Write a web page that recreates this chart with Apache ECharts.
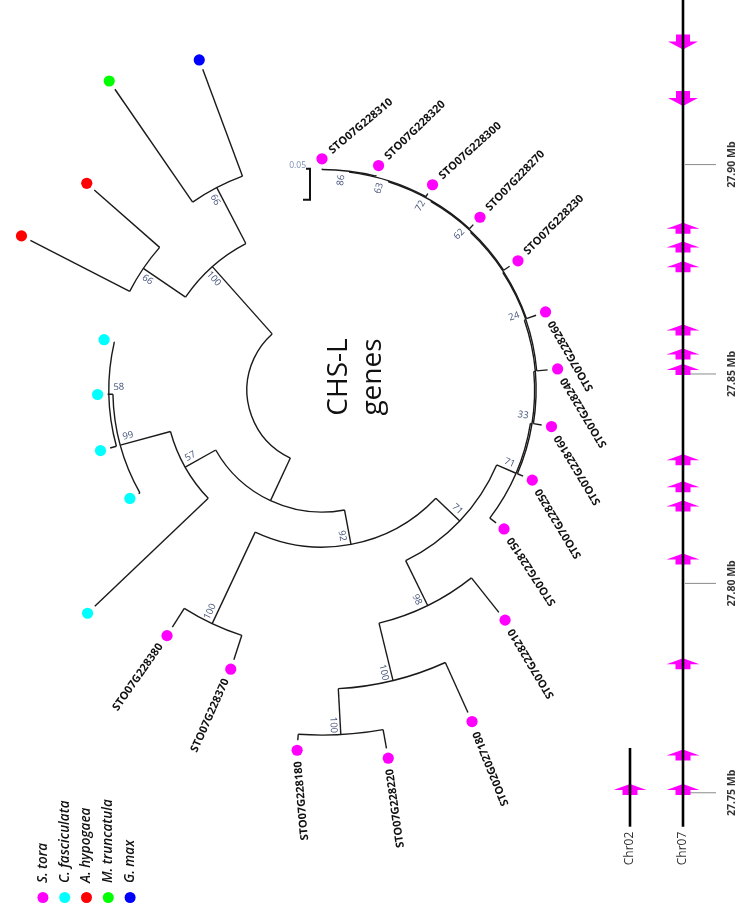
<!DOCTYPE html>
<html><head><meta charset="utf-8">
<script src="https://cdn.jsdelivr.net/npm/echarts@6.0.0/dist/echarts.min.js"></script>
<style>html,body{margin:0;padding:0;background:#fff}#c{width:739px;height:919px}</style>
</head><body><div id="c"></div>
<script>
// ================= DATA =================
// Phylogeny (Newick, branch lengths in substitutions/site, internal labels = bootstrap)
const treeNewick =
 "((((((((((((((STO07G228310:0.0011,STO07G228320:0.0015)86:0.0016,STO07G228300:0.0058)63:0.0016," +
 "STO07G228270:0.0090)72:0.0016,STO07G228230:0.0116)62:0.0016,STO07G228260:0.0165):0.0016," +
 "STO07G228240:0.0177)24:0.0024,STO07G228160:0.0134):0.0024,STO07G228250:0.0100)33:0.0024," +
 "STO07G228150:0.0127)71:0.0339,(STO07G228210:0.0710,(STO02G027180:0.0884,(STO07G228220:0.0306," +
 "STO07G228180:0.0097)100:0.0742)100:0.0952)98:0.0806)71:0.0532,(STO07G228370:0.0413," +
 "STO07G228380:0.0360)100:0.1629)92:0.0565,(Cfa1:0.2526,(Cfa2:0.0024,(Cfa3:0.0105,Cfa4:0.0021," +
 "Cfa5:0.0008)58:0.0065)99:0.0839)57:0.0565):0.0758,((Ahy1:0.1800,Ahy2:0.1403)66:0.0823," +
 "(Mtr1:0.2210,Gma1:0.1839)66:0.1016)100:0.1452);";

const species       = ['S. tora', 'C. fasciculata', 'A. hypogaea', 'M. truncatula', 'G. max'];
const speciesPrefix = ['STO', 'Cfa', 'Ahy', 'Mtr', 'Gma'];
const speciesColors = ['#ff00ff', '#00ffff', '#ff0000', '#00ff00', '#0000ff'];
const scaleBarValue = 0.05;

// Physical map (positions in Mb)
const chromosomes   = ['Chr02', 'Chr07'];
const chrStart      = [27.7419, 27.7419];
const chrEnd        = [27.7607, 27.9500];
const geneChr       = [1,1,1,1,1,1,1,1,1,1,1,1,1,1,1,0];
const genePos       = [27.9293,27.9158,27.8848,27.8803,27.8756,27.8605,27.8548,27.8511,
                       27.8295,27.8231,27.8185,27.8058,27.7808,27.7590,27.7508,27.7508];
const geneStrand    = ['-','-','+','+','+','+','+','+','+','+','+','+','+','+','+','+'];
const tickValues    = [27.75, 27.80, 27.85, 27.90];
const tickLabels    = ['27.75 Mb', '27.80 Mb', '27.85 Mb', '27.90 Mb'];

// ================= STYLE =================
const leafLabelRotation = {
  STO07G228310:40, STO07G228320:44, STO07G228300:42, STO07G228270:46, STO07G228230:45,
  STO07G228260:120, STO07G228240:121, STO07G228160:121, STO07G228250:121, STO07G228150:123,
  STO07G228210:121, STO02G027180:112, STO07G228220:98, STO07G228180:95,
  STO07G228370:66, STO07G228380:55
};
const LINE = '#1a1a1a';
const DOT_GAP = 10;

// ================= TREE LAYOUT =================
function parseNewick(str) {
  let i = 0;
  function node() {
    const n = { children: [], name: '', len: 0 };
    if (str[i] === '(') {
      i++; n.children.push(node());
      while (str[i] === ',') { i++; n.children.push(node()); }
      i++;
    }
    let name = '';
    while (i < str.length && !',():;'.includes(str[i])) name += str[i++];
    n.name = name;
    if (str[i] === ':') {
      i++; let num = '';
      while (i < str.length && !',();'.includes(str[i])) num += str[i++];
      n.len = parseFloat(num);
    }
    return n;
  }
  return node();
}
const root = parseNewick(treeNewick);
const allNodes = [], leaves = [];
(function layout(n, depth, parentDepth) {
  n.depth = depth; n.parentDepth = parentDepth;
  if (!n.children.length) { n.angle = leaves.length; leaves.push(n); }
  else {
    n.children.forEach(c => layout(c, depth + c.len, depth));
    n.angle = (n.children[0].angle + n.children[n.children.length - 1].angle) / 2;
  }
  allNodes.push(n);
})(root, 0, -1);
const supportNodes = allNodes.filter(n => n.children.length && n.name);
function speciesOf(name) { return speciesPrefix.findIndex(p => name.indexOf(p) === 0); }

// ================= RENDERERS =================
function renderBranch(params, api) {
  const cx = params.coordSys.cx, cy = params.coordSys.cy;
  const n = allNodes[params.dataIndex];
  const st = { stroke: LINE, lineWidth: 1.4, fill: 'none' };
  const out = [];
  if (n.parentDepth >= 0) {
    const a = api.coord([n.parentDepth, n.angle]), b = api.coord([n.depth, n.angle]);
    out.push({ type: 'line', shape: { x1: a[0], y1: a[1], x2: b[0], y2: b[1] }, style: st });
  }
  if (n.children.length) {
    const q0 = api.coord([n.depth, n.children[0].angle]);
    const q1 = api.coord([n.depth, n.children[n.children.length - 1].angle]);
    const r = Math.hypot(q0[0] - cx, q0[1] - cy);
    let s = Math.atan2(q0[1] - cy, q0[0] - cx), e = Math.atan2(q1[1] - cy, q1[0] - cx);
    let d = e - s;
    while (d > Math.PI) d -= 2 * Math.PI;
    while (d <= -Math.PI) d += 2 * Math.PI;
    if (d < 0) { s = e; d = -d; }
    out.push({ type: 'arc', shape: { cx, cy, r, startAngle: s, endAngle: s + d, clockwise: true }, style: st });
  }
  return { type: 'group', children: out };
}

function renderLeaf(params, api) {
  const cx = params.coordSys.cx, cy = params.coordSys.cy;
  const n = leaves[params.dataIndex];
  const tip = api.coord([n.depth, n.angle]);
  let ux = tip[0] - cx, uy = tip[1] - cy; const L = Math.hypot(ux, uy); ux /= L; uy /= L;
  const dx = tip[0] + ux * DOT_GAP, dy = tip[1] + uy * DOT_GAP;
  const out = [{ type: 'circle', shape: { cx: dx, cy: dy, r: 5.6 }, style: { fill: speciesColors[speciesOf(n.name)] } }];
  const rot = leafLabelRotation[n.name];
  if (rot !== undefined) {
    const rr = rot * Math.PI / 180, tx = Math.cos(rr), ty = -Math.sin(rr);
    const th = Math.atan2(-uy, ux);
    const outward = Math.cos(rr - th) > 0, sg = outward ? 1 : -1;
    out.push({ type: 'text', x: dx + sg * tx * 11, y: dy + sg * ty * 11, rotation: rr,
      style: { text: n.name, align: outward ? 'left' : 'right', verticalAlign: 'middle', fill: '#111',
               fontSize: 11, fontWeight: 'bold', fontFamily: 'Open Sans' } });
  }
  return { type: 'group', children: out };
}

function renderSupport(params, api) {
  const cx = params.coordSys.cx, cy = params.coordSys.cy;
  const n = supportNodes[params.dataIndex];
  const p = api.coord([n.depth, n.angle]);
  let ux = p[0] - cx, uy = p[1] - cy; const L = Math.hypot(ux, uy); ux /= L; uy /= L;
  const th = Math.atan2(-uy, ux);
  let deg = th * 180 / Math.PI;
  let rot = deg; while (rot > 90) rot -= 180; while (rot <= -90) rot += 180;
  const dn = (deg + 360) % 360;
  const side = (dn >= 180 && dn <= 300) ? -1 : 1;
  const tx = -Math.sin(th), ty = -Math.cos(th);
  return { type: 'text', x: p[0] - ux * 10 + side * tx * 7, y: p[1] - uy * 10 + side * ty * 7,
    rotation: rot * Math.PI / 180,
    style: { text: n.name, align: 'center', verticalAlign: 'middle', fill: '#44537a',
             fontSize: 9.5, fontFamily: 'Open Sans' } };
}

function renderScale(params, api) {
  const n = leaves[0];
  const tip = api.coord([n.depth, n.angle]);
  const a = api.coord([0, n.angle]), b = api.coord([scaleBarValue, n.angle]);
  const len = Math.hypot(b[0] - a[0], b[1] - a[1]);
  const x = tip[0] - 12, y0 = tip[1], y1 = tip[1] + len;
  const st = { stroke: '#111', lineWidth: 2, fill: 'none' };
  return { type: 'group', children: [
    { type: 'polyline', shape: { points: [[x - 4, y0], [x, y0], [x, y1], [x - 7, y1]] }, style: st },
    { type: 'text', x: x - 4, y: y0 - 3, style: { text: String(scaleBarValue), align: 'right', verticalAlign: 'middle',
      fill: '#7d8fb3', fontSize: 8.5, fontFamily: 'Open Sans' } }
  ] };
}

function renderTick(params, api) {
  const p = api.coord([api.value(0), api.value(1)]);
  return { type: 'group', children: [
    { type: 'line', shape: { x1: p[0] + 2, y1: p[1], x2: p[0] + 33, y2: p[1] }, style: { stroke: '#8a8a8a', lineWidth: 1 } },
    { type: 'text', x: p[0] + 49, y: p[1], rotation: Math.PI / 2,
      style: { text: tickLabels[params.dataIndex], align: 'center', verticalAlign: 'middle',
               fill: '#333', fontSize: 10.5, fontWeight: 'bold', fontFamily: 'Open Sans' } }
  ] };
}

const upGlyph = 'path://M0,6L16.5,0L33,6L24,6L24,11L9,11L9,6Z';
const downGlyph = 'path://M8,0L22,0L22,7L30,7L15,15L0,7L8,7Z';

const chart = echarts.init(document.getElementById('c'), null, { renderer: 'canvas' });
chart.setOption({
  animation: false,
  backgroundColor: '#fff',
  polar: { center: [322, 390], radius: 400 },
  angleAxis: { type: 'value', min: 0, max: 360 / 14.15, startAngle: 90, clockwise: true, show: false },
  radiusAxis: { type: 'value', min: -0.121, max: 0.524, show: false },
  grid: [
    { left: 603.5, width: 106, top: 0, height: 826.7, outerBoundsMode: 'none', containLabel: false },
    { left: 32, width: 109, top: 880, height: 35, outerBoundsMode: 'none', containLabel: false }
  ],
  xAxis: [
    { type: 'category', gridIndex: 0, data: chromosomes, axisLine: { show: false }, axisTick: { show: false },
      splitLine: { show: false },
      axisLabel: { rotate: 90, margin: 5, fontSize: 12, color: '#333', fontFamily: 'Open Sans' } },
    { type: 'category', gridIndex: 1, data: species, show: false }
  ],
  yAxis: [
    { type: 'value', gridIndex: 0, min: 27.7419, max: 27.9393, show: false, splitLine: { show: false } },
    { type: 'value', gridIndex: 1, min: -1, max: 1, show: false, splitLine: { show: false } }
  ],
  graphic: [
    { type: 'text', x: 356, y: 377, rotation: Math.PI / 2,
      style: { text: 'CHS-L\ngenes', align: 'center', verticalAlign: 'middle', fill: '#111',
               fontSize: 28, fontFamily: 'Open Sans', lineHeight: 34 } }
  ],
  series: [
    { type: 'custom', coordinateSystem: 'polar', renderItem: renderBranch,
      data: allNodes.map(n => [n.depth, n.angle]), silent: true },
    { type: 'custom', coordinateSystem: 'polar', renderItem: renderSupport,
      data: supportNodes.map(n => [n.depth, n.angle]), silent: true },
    { type: 'custom', coordinateSystem: 'polar', renderItem: renderLeaf,
      data: leaves.map(n => [n.depth, n.angle]), silent: true },
    { type: 'custom', coordinateSystem: 'polar', renderItem: renderScale,
      data: [[leaves[0].depth, leaves[0].angle]], silent: true },
    // chromosomes
    ...chromosomes.map((c, i) => ({
      type: 'line', xAxisIndex: 0, yAxisIndex: 0, symbol: 'none', silent: true,
      lineStyle: { color: '#000', width: 2.6 },
      data: [[i, chrStart[i]], [i, chrEnd[i]]]
    })),
    { type: 'custom', coordinateSystem: 'cartesian2d', xAxisIndex: 0, yAxisIndex: 0, renderItem: renderTick,
      data: tickValues.map(v => [1, v]), silent: true },
    { type: 'scatter', xAxisIndex: 0, yAxisIndex: 0, silent: true,
      itemStyle: { color: '#ff00ff', opacity: 1 },
      data: genePos.map((v, i) => ({
        value: [geneChr[i], v],
        symbol: geneStrand[i] === '+' ? upGlyph : downGlyph,
        symbolSize: geneStrand[i] === '+' ? [33, 11] : [30, 15]
      })) },
    // legend
    { type: 'scatter', xAxisIndex: 1, yAxisIndex: 1, symbolSize: 11, silent: true,
      data: species.map((s, i) => ({ value: [i, 0], itemStyle: { color: speciesColors[i], opacity: 1 } })),
      label: { show: true, position: 'top', distance: 9, rotate: 90, align: 'left', verticalAlign: 'middle',
               formatter: p => species[p.dataIndex], fontStyle: 'italic', fontWeight: 600, fontSize: 13.5,
               color: '#111', fontFamily: 'Open Sans' } }
  ]
});
</script></body></html>
